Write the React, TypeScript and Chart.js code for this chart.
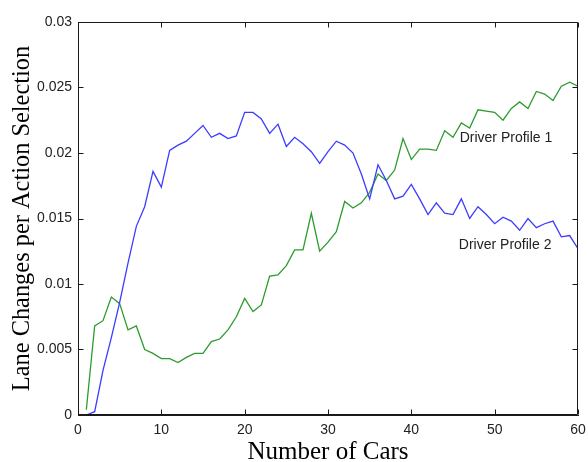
import React, { useEffect, useRef } from "react";
import { Chart, registerables } from "chart.js";

Chart.register(...registerables);

const cars = [
  1, 2, 3, 4, 5, 6, 7, 8, 9, 10, 11, 12, 13, 14, 15, 16, 17, 18, 19, 20,
  21, 22, 23, 24, 25, 26, 27, 28, 29, 30, 31, 32, 33, 34, 35, 36, 37, 38, 39, 40,
  41, 42, 43, 44, 45, 46, 47, 48, 49, 50, 51, 52, 53, 54, 55, 56, 57, 58, 59, 60,
];

const profile1 = [
  0.0004, 0.0068, 0.0072, 0.009, 0.0085, 0.0065, 0.0068, 0.005, 0.0047, 0.0043,
  0.0043, 0.004, 0.0044, 0.0047, 0.0047, 0.0056, 0.0058, 0.0065, 0.0075, 0.0089,
  0.0079, 0.0084, 0.0106, 0.0107, 0.0114, 0.0126, 0.0126, 0.0154, 0.0125, 0.0132,
  0.014, 0.0163, 0.0158, 0.0162, 0.017, 0.0184, 0.0179, 0.0187, 0.0211, 0.0195,
  0.0203, 0.0203, 0.0202, 0.0217, 0.0212, 0.0223, 0.0219, 0.0233, 0.0232, 0.0231,
  0.0225, 0.0234, 0.0239, 0.0234, 0.0247, 0.0245, 0.024, 0.0251, 0.0254, 0.0251,
];

const profile2 = [
  0, 0.00025, 0.0034, 0.0059, 0.0086, 0.0116, 0.0144, 0.0159, 0.0186, 0.0174,
  0.0202, 0.0206, 0.0209, 0.0215, 0.0221, 0.0212, 0.0215, 0.0211, 0.0213, 0.0231,
  0.0231, 0.0226, 0.0215, 0.0222, 0.0205, 0.0212, 0.0207, 0.0201, 0.0192, 0.0201,
  0.0209, 0.0206, 0.02, 0.0184, 0.0165, 0.0191, 0.0179, 0.0165, 0.0167, 0.0176,
  0.0165, 0.0153, 0.0162, 0.0154, 0.0153, 0.0165, 0.015, 0.0159, 0.0153, 0.0146,
  0.0151, 0.0148, 0.0141, 0.015, 0.0143, 0.0146, 0.0148, 0.0136, 0.0137, 0.0127,
];

const labelTexts = ["Driver Profile 1", "Driver Profile 2"];
const labelX = [45.8, 45.7];
const labelY = [0.02115, 0.01297];

const xTicks = [0, 10, 20, 30, 40, 50, 60];
const yTicks = [0, 0.005, 0.01, 0.015, 0.02, 0.025, 0.03];

const boxPlugin = {
  id: "matlabBox",
  afterDraw(chart: any) {
    const ctx: CanvasRenderingContext2D = chart.ctx;
    const area = chart.chartArea;
    const L = Math.round(area.left) + 0.5;
    const R = Math.round(area.right) - 0.5;
    const T = Math.round(area.top) + 0.5;
    const B = Math.round(area.bottom) - 0.5;
    ctx.save();
    ctx.globalAlpha = 1;
    ctx.setLineDash([]);
    ctx.strokeStyle = "#1a1a1a";
    ctx.lineWidth = 1;
    ctx.beginPath();
    ctx.moveTo(L, T);
    ctx.lineTo(R, T);
    ctx.lineTo(R, B);
    ctx.lineTo(L, B);
    ctx.closePath();
    const tl = 5;
    for (const v of xTicks) {
      const px = Math.round(chart.scales.x.getPixelForValue(v)) + 0.5;
      ctx.moveTo(px, B);
      ctx.lineTo(px, B - tl);
      ctx.moveTo(px, T);
      ctx.lineTo(px, T + tl);
    }
    for (const v of yTicks) {
      const py = Math.round(chart.scales.y.getPixelForValue(v)) + 0.5;
      ctx.moveTo(L, py);
      ctx.lineTo(L + tl, py);
      ctx.moveTo(R, py);
      ctx.lineTo(R - tl, py);
    }
    ctx.stroke();
    ctx.fillStyle = "#222";
    ctx.font = "14px 'Liberation Sans', Arial, sans-serif";
    ctx.textAlign = "left";
    ctx.textBaseline = "middle";
    labelTexts.forEach((t, i) => {
      ctx.fillText(
        t,
        chart.scales.x.getPixelForValue(labelX[i]),
        chart.scales.y.getPixelForValue(labelY[i])
      );
    });
    ctx.restore();
  },
};

export default function App() {
  const ref = useRef<HTMLCanvasElement | null>(null);
  useEffect(() => {
    if (!ref.current) return;
    const chart = new Chart(ref.current, {
      type: "line",
      data: {
        datasets: [
          {
            label: "Driver Profile 2",
            data: cars.map((c, i) => ({ x: c, y: profile2[i] })),
            borderColor: "#3c3cff",
            borderWidth: 1.3,
            pointRadius: 0,
            tension: 0,
            fill: false,
          },
          {
            label: "Driver Profile 1",
            data: cars.map((c, i) => ({ x: c, y: profile1[i] })),
            borderColor: "#2e9b2e",
            borderWidth: 1.3,
            pointRadius: 0,
            tension: 0,
            fill: false,
          },
        ],
      },
      options: {
        responsive: false,
        animation: false,
        devicePixelRatio: 1,
        layout: { padding: { left: 0, right: 10, top: 22, bottom: 0 } },
        plugins: {
          legend: { display: false },
          tooltip: { enabled: false },
        },
        scales: {
          x: {
            type: "linear",
            min: 0,
            max: 60,
            afterBuildTicks: (scale: any) => {
              scale.ticks = xTicks.map((v) => ({ value: v }));
            },
            afterFit: (scale: any) => {
              scale.height = 47;
              scale.paddingLeft = 0;
              scale.paddingRight = 0;
            },
            grid: { display: false, drawTicks: false },
            border: { display: true, color: "#1a1a1a", width: 1 },
            ticks: {
              padding: 7,
              color: "#222",
              font: { family: "'Liberation Sans', Arial, sans-serif", size: 14 },
              maxRotation: 0,
              autoSkip: false,
            },
            title: {
              display: true,
              text: "Number of Cars",
              color: "#000",
              font: { family: "'Liberation Serif', 'Times New Roman', serif", size: 25, lineHeight: 0.75 },
              padding: { top: 0, bottom: 0 },
            },
          },
          y: {
            type: "linear",
            min: 0,
            max: 0.03,
            afterBuildTicks: (scale: any) => {
              scale.ticks = yTicks.map((v) => ({ value: v }));
            },
            afterFit: (scale: any) => {
              scale.width = 78;
              scale.paddingTop = 0;
              scale.paddingBottom = 0;
            },
            grid: { display: false, drawTicks: false },
            border: { display: true, color: "#1a1a1a", width: 1 },
            ticks: {
              padding: 6,
              color: "#222",
              font: { family: "'Liberation Sans', Arial, sans-serif", size: 14 },
              callback: (v: any) => String(Number(Number(v).toFixed(4))),
              autoSkip: false,
            },
            title: {
              display: true,
              text: "Lane Changes per Action Selection",
              color: "#000",
              font: { family: "'Liberation Serif', 'Times New Roman', serif", size: 24.4, lineHeight: 1 },
              padding: { top: 10, bottom: 0 },
            },
          },
        },
      },
      plugins: [boxPlugin],
    });
    return () => chart.destroy();
  }, []);
  return (
    <div style={{ position: "absolute", left: 0, top: 0, width: 588, height: 462, background: "#fff" }}>
      <canvas ref={ref} width={588} height={462} style={{ display: "block" }} />
    </div>
  );
}
